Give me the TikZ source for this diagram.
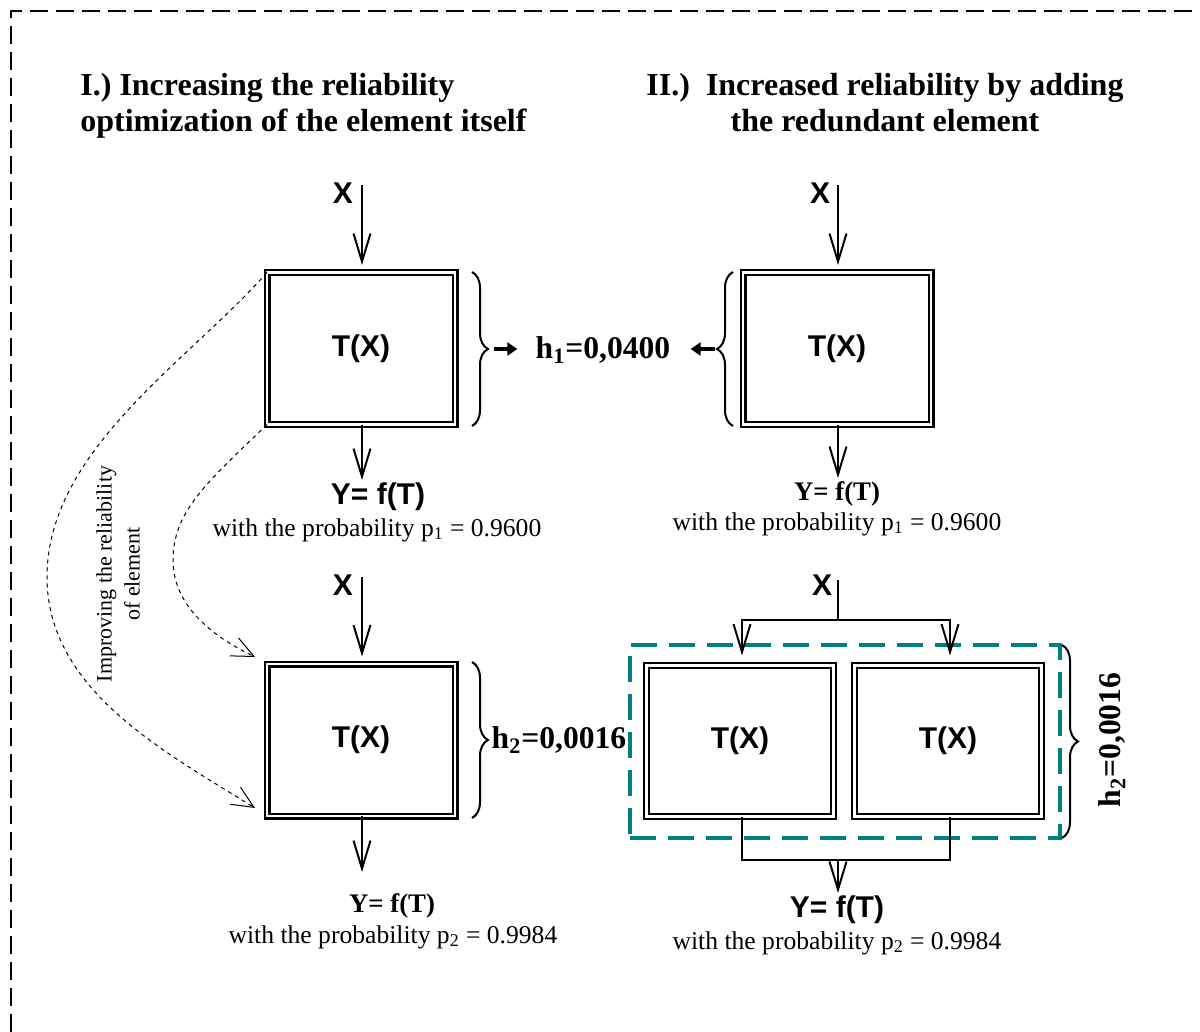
\documentclass[tikz,border=0pt]{standalone}
\usepackage{fontspec}
\setmainfont{Liberation Serif}
\setsansfont{Liberation Sans}
\usetikzlibrary{arrows.meta,decorations.pathreplacing,calc}
\definecolor{groupteal}{RGB}{0,128,128}

\begin{document}
\begin{tikzpicture}[x=0.5pt,y=-0.5pt,
  unitbox/.style={draw, double, double distance=1.3pt, line width=1.1pt,
    minimum width=94pt, minimum height=76pt, inner sep=0pt, outer sep=0pt,
    font=\sffamily\bfseries\fontsize{15}{17}\selectfont},
  pairbox/.style={unitbox, minimum width=93.5pt, minimum height=75.5pt},
  arr/.style={line width=1pt, -{Straight Barb[length=14pt,width=8.5pt]}},
  plain/.style={line width=1pt},
  harr/.style={line width=1.6pt, -{Triangle[length=5pt,width=6.5pt]}},
  brc/.style={decorate, decoration={brace, amplitude=8pt}, line width=1pt},
  curve/.style={line width=0.5pt, dash pattern=on 2pt off 2pt,
    -{Straight Barb[length=11pt,width=10pt]}},
  sflab/.style={font=\sffamily\bfseries\fontsize{15}{17}\selectfont, inner sep=0pt},
  serlab/.style={font=\bfseries\fontsize{13.4}{16}\selectfont, inner sep=0pt},
  prob/.style={font=\fontsize{12.8}{15}\selectfont, inner sep=0pt},
  hval/.style={font=\bfseries\fontsize{15.8}{18}\selectfont, inner sep=0pt},
  title/.style={font=\bfseries\fontsize{16}{18}\selectfont, inner sep=0pt},
  border/.style={line width=1pt, dash pattern=on 9pt off 4pt},
  groupbox/.style={draw=groupteal, line width=2pt, dash pattern=on 13pt off 6pt,
    minimum width=215pt, minimum height=96.5pt, inner sep=0pt}
]
\useasboundingbox (0,0) rectangle (1200,1032);

% outer frame
\draw[border] (11,1032) -- (11,11) -- (1197,11);

% headings
\node[title, align=left, anchor=west] (t1) at (80,106)
  {I.) Increasing the reliability\\optimization of the element itself};
\node[title, align=center] (t2) at (885,103)
  {II.)\ \ Increased reliability by adding\\the redundant element};

% ---- single element, first stage
\node[unitbox] (A) at (361,348.5) {T(X)};
\coordinate (inA) at (362,185);
\node[sflab] (xA) at (343,193) {X};
\draw[arr, shorten >=3.75pt] (inA) -- (inA |- A.north);
\coordinate (outA) at (362,480);
\draw[arr] (outA |- A.south) -- (outA);
\node[sflab] (yA) at (378,497) {Y= f(T)};
\node[prob] (pA) at (377,530) {with the probability p\textsubscript{1} = 0.9600};

% ---- second element of column II, first stage
\node[unitbox] (B) at (837,348.5) {T(X)};
\coordinate (inB) at (838,185);
\node[sflab] (xB) at (820,193) {X};
\draw[arr, shorten >=3.75pt] (inB) -- (inB |- B.north);
\coordinate (outB) at (838,478);
\draw[arr] (outB |- B.south) -- (outB);
\node[serlab] (yB) at (837,494) {Y= f(T)};
\node[prob] (pB) at (837,524) {with the probability p\textsubscript{1} = 0.9600};

% failure probability of one element
\draw[brc] (472,272) -- (472,426);
\coordinate (bA) at (488,349);
\draw[brc] (733,426) -- (733,272);
\coordinate (bB) at (717,349);
\node[hval] (h1) at (603,350) {h\textsubscript{1}=0,0400};
\draw[harr, shorten <=3pt, shorten >=9pt] (bA) -- (bA -| h1.west);
\draw[harr, shorten <=1pt, shorten >=10pt] (bB) -- (bB -| h1.east);

% ---- improved single element
\node[unitbox] (C) at (361,740) {T(X)};
\coordinate (inC) at (362,577);
\node[sflab] (xC) at (343,585) {X};
\draw[arr, shorten >=3.75pt] (inC) -- (inC |- C.north);
\coordinate (outC) at (362,872);
\draw[arr] (outC |- C.south) -- (outC);
\node[serlab] (yC) at (392,906) {Y= f(T)};
\node[prob] (pC) at (393,937) {with the probability p\textsubscript{2} = 0.9984};
\draw[brc] (472,662) -- (472,818);
\node[hval] (h2a) at (559,740) {h\textsubscript{2}=0,0016};

% ---- redundant pair
\node[groupbox] (G) at (845,741.5) {};
\node[pairbox] (D) at (740,741) {T(X)};
\node[pairbox] (E) at (948,741) {T(X)};
\coordinate (inX) at (838,580);
\node[sflab] (xX) at (822,585) {X};
\coordinate (split) at (838,620);
\draw[plain] (inX) -- (split);
\draw[arr, shorten >=5pt] (split) -| ($(D.north)+(2,0)$);
\draw[arr, shorten >=5pt] (split) -| ($(E.north)+(2,0)$);
\coordinate (merge) at (838,860);
\draw[plain] ($(D.south)+(2,0)$) |- (merge) -| ($(E.south)+(2,0)$);
\coordinate (outX) at (838,893);
\draw[arr] (merge) -- (outX);
\node[sflab] (yX) at (837,910) {Y= f(T)};
\node[prob] (pX) at (837,943) {with the probability p\textsubscript{2} = 0.9984};
\draw[brc] (1062,645) -- (1062,838);
\node[hval, rotate=90] (h2b) at (1112,740) {h\textsubscript{2}=0,0016};

% ---- improvement of the element itself
\draw[curve] (A.north west) .. controls (190,360) and (47,450) .. (47,577)
  .. controls (47,690) and (165,752) .. (255,808);
\draw[curve] (A.south west) .. controls (210,480) and (173,510) .. (173,560)
  .. controls (173,610) and (220,640) .. (255,657);
\node[font=\fontsize{11}{14}\selectfont, align=center, rotate=90, inner sep=0pt]
  (imp) at (118,574) {Improving the reliability\\of element};
\end{tikzpicture}
\end{document}
